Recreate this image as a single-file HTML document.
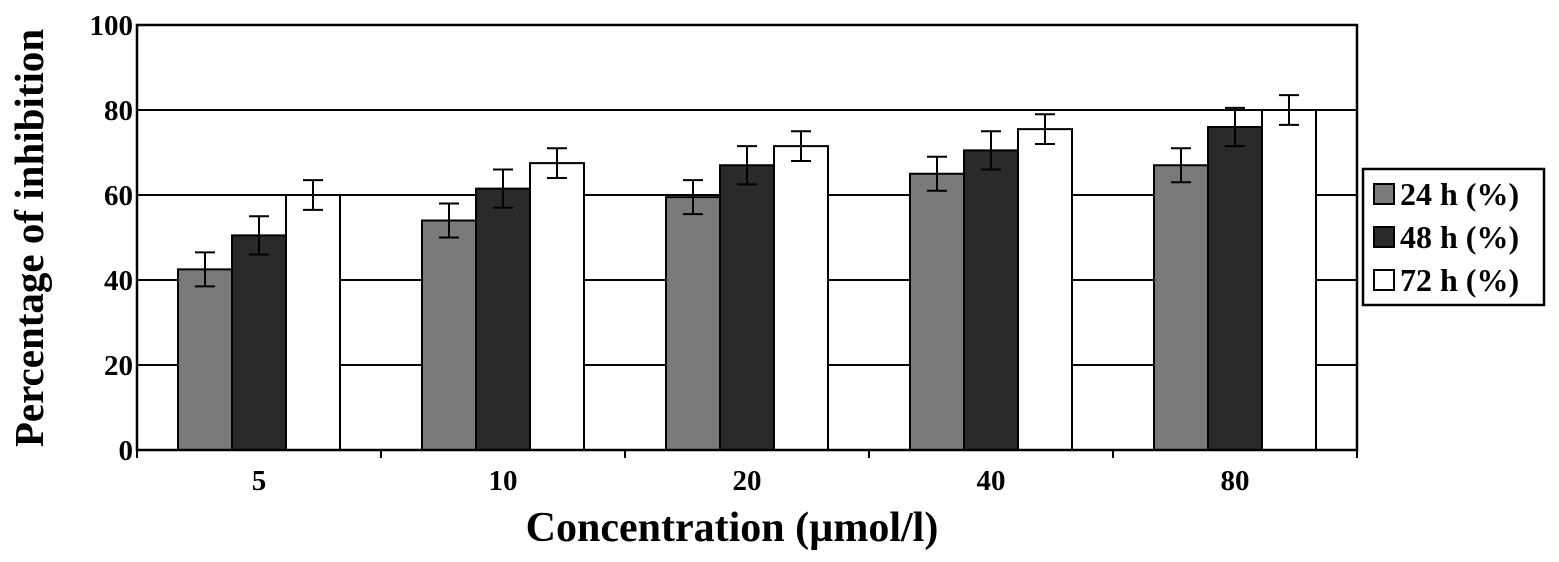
<!DOCTYPE html>
<html><head><meta charset="utf-8"><style>body{margin:0;background:#fff}svg{display:block}text{font-family:"Liberation Serif",serif;font-weight:bold;fill:#000}</style></head>
<body>
<svg id="c" width="1559" height="562"></svg>
<script>
const categories=["5","10","20","40","80"];
const s24=[42.5,54,59.5,65,67];
const s48=[50.5,61.5,67,70.5,76];
const s72=[60,67.5,71.5,75.5,80];
const e24=[4,4,4,4,4];
const e48=[4.5,4.5,4.5,4.5,4.5];
const e72=[3.5,3.5,3.5,3.5,3.5];
const yTicks=[0,20,40,60,80,100];
const seriesNames=["24 h (%)","48 h (%)","72 h (%)"];
const NS="http://www.w3.org/2000/svg",svg=document.getElementById('c');
const X0=137,X1=1357,Y0=450,Y1=25;
const y=v=>Y0-(Y0-Y1)*v/100;
const gw=(X1-X0)/categories.length;
function el(t,a,p){const e=document.createElementNS(NS,t);for(const k in a)e.setAttribute(k,a[k]);(p||svg).appendChild(e);return e;}
yTicks.forEach(t=>{
if(t!==0){const g=el('line',{x1:X0,x2:X1,y1:y(t),y2:y(t),stroke:'#000','stroke-width':2});

}
const l=el('text',{x:X0-4,y:y(t)+10,'text-anchor':'end','font-size':29});l.textContent=t;

});
const series=[[s24,e24,'#7a7a7a'],[s48,e48,'#2a2a2a'],[s72,e72,'#ffffff']];
const bw=54;
categories.forEach((c,i)=>{
 const gx=X0+i*gw+gw/2-bw*1.5;
 series.forEach((s,j)=>{
  const v=s[0][i],x=gx+j*bw;
  const r=el('rect',{x:x,y:y(v),width:bw,height:Y0-y(v),fill:s[2],stroke:'#000','stroke-width':2});
  
  
  const cx=x+bw/2,hi=y(v+s[1][i]),lo=y(v-s[1][i]);
  const g=el('g',{stroke:'#000','stroke-width':2});
  
  
  el('line',{x1:cx,x2:cx,y1:hi,y2:lo},g);
  el('line',{x1:cx-10,x2:cx+10,y1:hi,y2:hi},g);
  el('line',{x1:cx-10,x2:cx+10,y1:lo,y2:lo},g);
 });
 const t=el('text',{x:X0+i*gw+gw/2,y:Y0+40,'text-anchor':'middle','font-size':29});t.textContent=c;
 
 
});
const ax=el('path',{d:`M${X0} ${Y1} V${Y0} H${X1} V${Y1} Z`,fill:'none',stroke:'#000','stroke-width':2.5});


for(let i=0;i<=categories.length;i++){const tk=el('line',{x1:X0+i*gw,x2:X0+i*gw,y1:Y0,y2:Y0+8,stroke:'#000','stroke-width':2});

}
const xt=el('text',{x:732,y:541,'text-anchor':'middle','font-size':42});xt.textContent='Concentration (µmol/l)';


const yt=el('text',{x:0,y:0,'text-anchor':'middle','font-size':41,transform:'translate(43,238) rotate(-90)'});yt.textContent='Percentage of inhibition';


const lg=el('g',{});


el('rect',{x:1363,y:169,width:181,height:136,fill:'#fff',stroke:'#000','stroke-width':2.5},lg);
seriesNames.forEach((n,j)=>{
 const yy=194+j*43;
 const sw=el('rect',{x:1374,y:yy-10,width:20,height:20,fill:series[j][2],stroke:'#000','stroke-width':2},lg);
 
 
 const t=el('text',{x:1400,y:yy+11,'font-size':32},lg);t.textContent=n;
 
 
});
</script>
</body></html>
